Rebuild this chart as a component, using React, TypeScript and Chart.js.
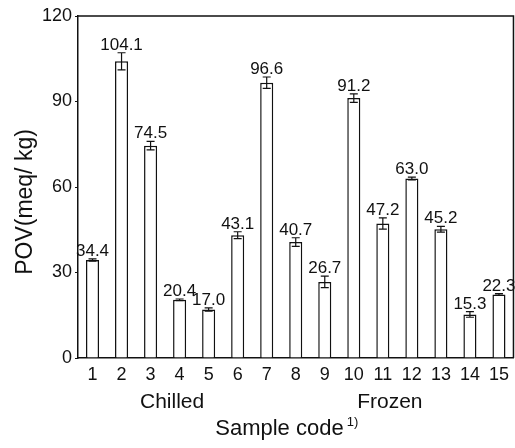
import React, { useEffect, useRef } from "react";
import { Chart, registerables } from "chart.js";

Chart.register(...registerables);

const categories = ["1", "2", "3", "4", "5", "6", "7", "8", "9", "10", "11", "12", "13", "14", "15"];
const povValues = [34.4, 104.1, 74.5, 20.4, 17.0, 43.1, 96.6, 40.7, 26.7, 91.2, 47.2, 63.0, 45.2, 15.3, 22.3];
const povErrors = [0.4, 3.0, 1.5, 0.3, 0.6, 1.2, 2.0, 1.5, 2.0, 1.5, 2.0, 0.5, 1.0, 1.0, 0.3];
const valueLabels = ["34.4", "104.1", "74.5", "20.4", "17.0", "43.1", "96.6", "40.7", "26.7", "91.2", "47.2", "63.0", "45.2", "15.3", "22.3"];
const yTicks = [0, 30, 60, 90, 120];
const groupNames = ["Chilled", "Frozen"];
const groupFirst = [0, 6];
const groupLast = [5, 14];
const yTitle = "POV(meq/ kg)";
const xTitle = "Sample code";
const xTitleSup = "1)";

const FONT = "'Liberation Sans', Arial, Helvetica, sans-serif";
const INK = "#111";

const overlayPlugin = {
  id: "overlay",
  afterDatasetsDraw(chart: any) {
    const { ctx, chartArea, scales } = chart;
    const x = scales.x;
    const y = scales.y;
    ctx.save();
    // frame top and right
    ctx.strokeStyle = INK;
    ctx.lineWidth = 1.5;
    ctx.beginPath();
    ctx.moveTo(chartArea.left, chartArea.top);
    ctx.lineTo(chartArea.right, chartArea.top);
    ctx.lineTo(chartArea.right, chartArea.bottom);
    ctx.stroke();

    // error bars and labels
    const meta = chart.getDatasetMeta(0);
    ctx.lineWidth = 1.2;
    ctx.font = `17px ${FONT}`;
    ctx.fillStyle = INK;
    ctx.textAlign = "center";
    ctx.textBaseline = "alphabetic";
    povValues.forEach((v, i) => {
      const cx = meta.data[i].x;
      const top = y.getPixelForValue(v + povErrors[i]);
      const bot = y.getPixelForValue(v - povErrors[i]);
      const cap = 4;
      ctx.beginPath();
      ctx.moveTo(cx, top);
      ctx.lineTo(cx, bot);
      ctx.moveTo(cx - cap, top);
      ctx.lineTo(cx + cap, top);
      ctx.moveTo(cx - cap, bot);
      ctx.lineTo(cx + cap, bot);
      ctx.stroke();
      ctx.fillText(valueLabels[i], cx, top - 3);
    });

    // group labels
    ctx.font = `21px ${FONT}`;
    groupNames.forEach((g, k) => {
      const a = x.getPixelForValue(groupFirst[k]);
      const b = x.getPixelForValue(groupLast[k]);
      ctx.fillText(g, (a + b) / 2 + 7, 408);
    });

    // x title with superscript
    ctx.font = `22px ${FONT}`;
    const w = ctx.measureText(xTitle).width;
    ctx.font = `13px ${FONT}`;
    const ws = ctx.measureText(xTitleSup).width;
    const cxTitle = (chartArea.left + chartArea.right) / 2 - 9;
    const startX = cxTitle - (w + 3 + ws) / 2;
    ctx.textAlign = "left";
    ctx.font = `22px ${FONT}`;
    ctx.fillText(xTitle, startX, 435);
    ctx.font = `13px ${FONT}`;
    ctx.fillText(xTitleSup, startX + w + 3, 426);

    // y title
    ctx.font = `23px ${FONT}`;
    ctx.textAlign = "center";
    ctx.translate(32, (chartArea.top + chartArea.bottom) / 2 + 15);
    ctx.rotate(-Math.PI / 2);
    ctx.fillText(yTitle, 0, 0);
    ctx.restore();
  },
};

export default function App() {
  const ref = useRef<HTMLCanvasElement | null>(null);
  useEffect(() => {
    if (!ref.current) return;
    const chart = new Chart(ref.current, {
      type: "bar",
      data: {
        labels: categories,
        datasets: [
          {
            data: povValues,
            backgroundColor: "#ffffff",
            borderColor: INK,
            borderWidth: 1.5,
            barPercentage: 0.45,
            categoryPercentage: 1,
          },
        ],
      },
      options: {
        responsive: false,
        animation: false,
        layout: { padding: { top: 16, right: 1, left: 0, bottom: 0 } },
        plugins: { legend: { display: false }, tooltip: { enabled: false } },
        scales: {
          x: {
            grid: { display: true, drawOnChartArea: false, drawTicks: false },
            border: { display: true, color: INK, width: 1.5 },
            ticks: { color: INK, font: { family: FONT, size: 18 }, padding: 6, maxRotation: 0, autoSkip: false },
            afterFit: (s: any) => {
              s.height = 90;
            },
          },
          y: {
            min: 0,
            max: 120,
            afterBuildTicks: (s: any) => {
              s.ticks = yTicks.map((v) => ({ value: v }));
            },
            grid: { display: true, drawOnChartArea: false, drawTicks: true, tickLength: 3, color: INK },
            border: { display: true, color: INK, width: 1.5 },
            ticks: { color: INK, font: { family: FONT, size: 18 }, padding: 3 },
            afterFit: (s: any) => {
              s.width = 78;
            },
          },
        },
      },
      plugins: [overlayPlugin],
    });
    return () => chart.destroy();
  }, []);
  return (
    <div style={{ position: "absolute", left: 0, top: 0, width: 515, height: 448, background: "#fff" }}>
      <canvas ref={ref} width={515} height={448} />
    </div>
  );
}
